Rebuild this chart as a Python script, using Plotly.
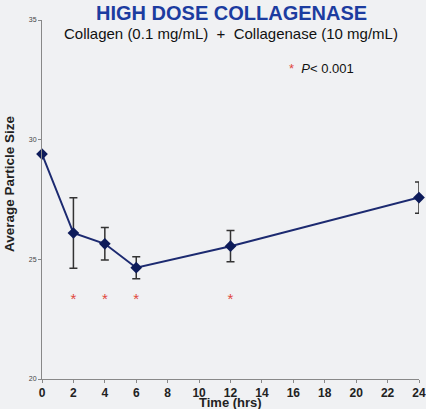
import plotly.graph_objects as go

time_hrs = [0, 2, 4, 6, 12, 24]
avg_size = [29.4, 26.1, 25.65, 24.65, 25.55, 27.58]
err = [0, 1.47, 0.68, 0.46, 0.65, 0.65]
sig_times = [2, 4, 6, 12]
sig_level = [23.3, 23.3, 23.3, 23.3]
x_ticks = list(range(0, 25, 2))
y_ticks = [20, 25, 30, 35]

W, H = 426, 409
l, r, t, b = 42, 7, 20, 30
bg = "#f0f1f3"

fig = go.Figure()
fig.add_trace(go.Scatter(
    x=time_hrs, y=avg_size, mode="lines+markers",
    line=dict(color="#1c2a70", width=2),
    marker=dict(symbol="diamond", size=9, color="#0d1b5a"),
    error_y=dict(type="data", array=err, visible=True, color="#333333", thickness=1.5, width=4),
    showlegend=False, cliponaxis=False))
fig.add_trace(go.Scatter(
    x=sig_times, y=sig_level, mode="text", text=["*"] * len(sig_times),
    textfont=dict(color="#e0473c", size=15, family="Liberation Sans"),
    showlegend=False))


def ann(text, px, py, size, color="#111", angle=0):
    return dict(text=text, x=(px - l) / (W - l - r), y=(H - py - b) / (H - t - b),
                xref="paper", yref="paper", xanchor="center", yanchor="middle",
                showarrow=False, textangle=angle, font=dict(size=size, color=color))


fig.update_layout(
    width=W, height=H,
    margin=dict(l=l, r=r, t=t, b=b, autoexpand=False),
    paper_bgcolor=bg, plot_bgcolor=bg,
    font=dict(family="Liberation Sans", color="#111"),
    xaxis=dict(range=[0, 24], tickvals=x_ticks, ticks="outside", ticklen=3,
               tickcolor="#888", showline=True, linecolor="#888", linewidth=1,
               showgrid=False, zeroline=False, automargin=False, ticklabelstandoff=0,
               tickfont=dict(size=12, color="#222", family="Liberation Sans", weight="bold")),
    yaxis=dict(range=[20, 35], tickvals=y_ticks, ticks="outside", ticklen=3,
               tickcolor="#888", showline=True, linecolor="#888", linewidth=1,
               showgrid=False, zeroline=False, automargin=False,
               tickfont=dict(size=7, color="#444")),
    annotations=[
        ann("<b>HIGH DOSE COLLAGENASE</b>", 231, 13, 20, "#1c3ca0"),
        ann("Collagen (0.1 mg/mL)  +  Collagenase (10 mg/mL)", 231, 33, 15),
        ann("<span style='color:#e0473c'>*</span>  <i>P</i>< 0.001", 321, 68, 13),
        ann("<b>Time (hrs)</b>", 230, 402.5, 13, "#222"),
        ann("<b>Average Particle Size</b>", 9, 184, 13.5, "#222", -90),
    ],
)

fig.write_html("out.html", config={"displayModeBar": False},
               post_script="document.body.style.margin='0';document.body.style.overflow='hidden';"
                           "document.body.style.background='#f0f1f3';")
